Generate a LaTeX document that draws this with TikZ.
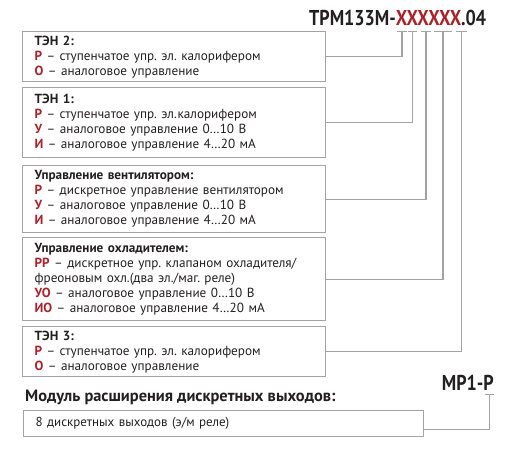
\documentclass[tikz,border=0pt]{standalone}
\usepackage{fontspec}
\setmainfont{PT Sans}
\usetikzlibrary{calc}
\definecolor{codered}{HTML}{A8232A}
\definecolor{framegray}{HTML}{A3A3A3}
\definecolor{inkdark}{HTML}{231F20}
\def\code#1{\textcolor{codered}{\textbf{#1}}}
\def\narrow#1{\scalebox{0.84}[1]{#1}}
\frenchspacing

\begin{document}
\begin{tikzpicture}[x=1pt, y=-1pt,
		box/.style={draw=framegray, line width=1.3pt, anchor=north west, text width=279pt,
			align=left, inner xsep=12pt, inner ysep=0pt, text=inkdark,
			font=\fontsize{13.2}{15}\selectfont},
		wire/.style={draw=framegray, line width=1.3pt},
		model/.style={inner sep=0pt, text=inkdark, font=\fontsize{21.5}{22}\selectfont\bfseries}]
			%%%%% START %%%%%
			
			\useasboundingbox (0,0) rectangle (515,455);
			
			\node[model, anchor=base west] (trm) at (309, 26) {\narrow{ТРМ133М-\textcolor{codered}{XXXXXX}.04}};
			
			\node[box, minimum height=50pt] (ten2) at (22, 31) {\textbf{ТЭН 2:}\\
				\code{Р} – ступенчатое упр. эл. калорифером\\
				\code{О} – аналоговое управление};
			
			\node[box, minimum height=70pt] (ten1) at (22, 87) {\textbf{ТЭН 1:}\\
				\code{Р} – ступенчатое упр. эл.калорифером\\
				\code{У} – аналоговое управление 0…10 В\\
				\code{И} – аналоговое управление 4…20 мА};
			
			\node[box, minimum height=67pt] (fan) at (22, 165) {\textbf{Управление вентилятором:}\\
				\code{Р} – дискретное управление вентилятором\\
				\code{У} – аналоговое управление 0…10 В\\
				\code{И} – аналоговое управление 4…20 мА};
			
			\node[box, minimum height=83pt] (cool) at (22, 237) {\textbf{Управление охладителем:}\\
				\makebox[273pt][s]{\code{РР} – дискретное упр. клапаном охладителя/}\\
				фреоновым охл.(два эл./маг. реле)\\
				\code{УО} – аналоговое управление 0…10 В\\
				\code{ИО} – аналоговое управление 4…20 мА};
			
			\node[box, minimum height=50pt] (ten3) at (22, 326) {\textbf{ТЭН 3:}\\
				\code{Р} – ступенчатое упр. эл. калорифером\\
				\code{О} – аналоговое управление};
			
			% ticks under the code letters
			\foreach \a/\b/\n in {397/407/1, 408/417/2, 421/431/3, 434/452/4, 456/467/5}{
				\draw[wire] (\a, 31.5) -- (\b, 31.5);
				\coordinate (t\n) at ({(\a+\b)/2}, 31.5);
			}
			
			\draw[wire] (ten2.east) -| (t1);
			\draw[wire] (ten1.east) -| (t2);
			\draw[wire] (fan.east) -| (t3);
			\draw[wire] (cool.east) -| (t4);
			\draw[wire] (ten3.east) -| (t5);
			
			% expansion module
			\node[model, anchor=base east] (mr) at (494, 390) {\narrow{МР1-Р}};
			\node[anchor=base west, inner sep=0pt, text=inkdark, font=\fontsize{16.4}{17}\selectfont\bfseries] (modtitle) at (25, 401.5) {Модуль расширения дискретных выходов:};
			
			\node[box, text width=376pt, minimum height=26pt] (mod) at (23, 410) {\fontsize{13}{14}\selectfont 8 дискретных выходов (э/м реле)};
			
			\draw[wire] (485, 394.5) -- (494, 394.5);
			\coordinate (t6) at (489.5, 394.5);
			\draw[wire] ([yshift=-6pt]mod.east) -| (t6);
			
			%%%%% END %%%%%
\end{tikzpicture}
\end{document}
